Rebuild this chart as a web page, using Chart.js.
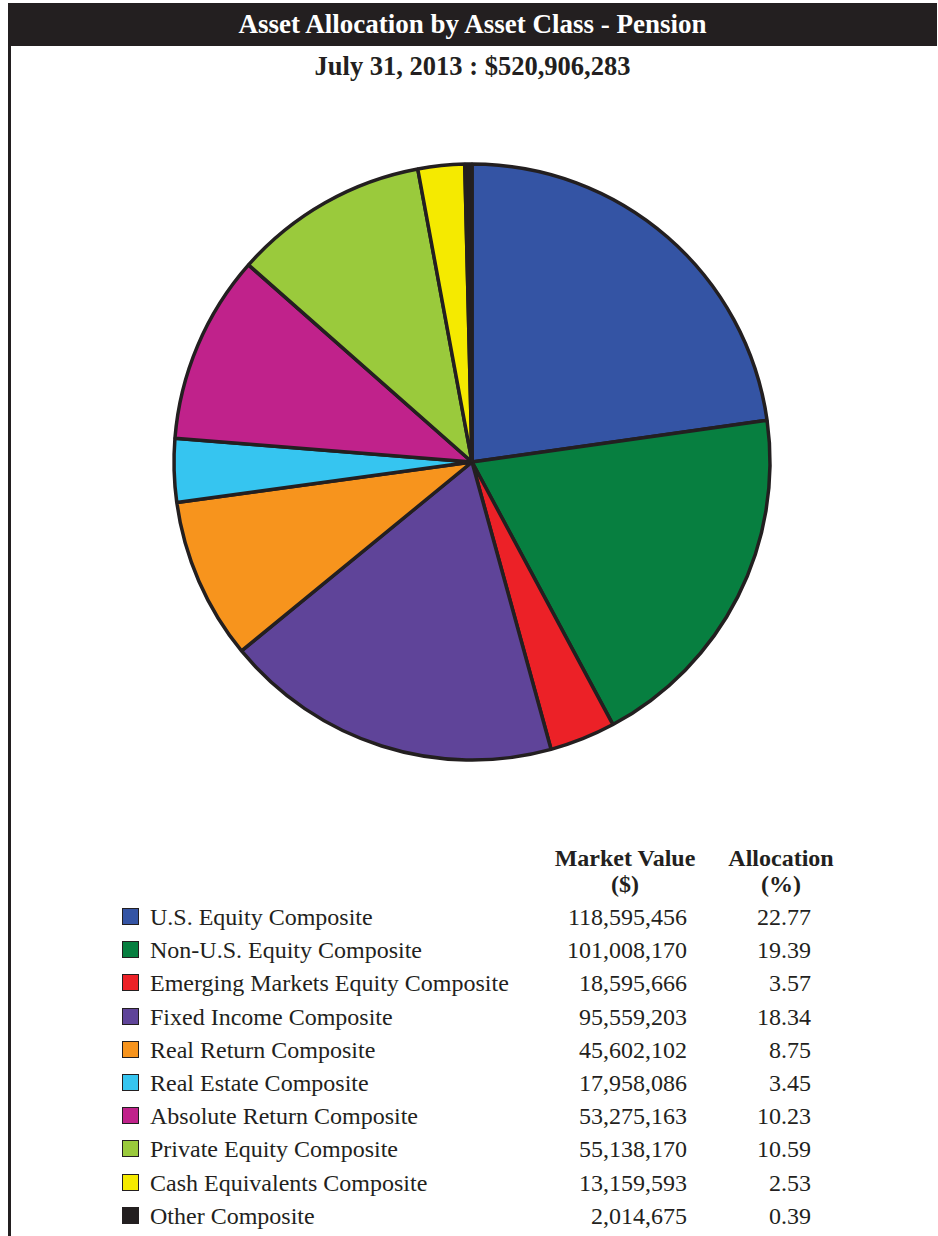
<!DOCTYPE html>
<html>
<head>
<meta charset="utf-8">
<script src="https://cdn.jsdelivr.net/npm/chart.js@4/dist/chart.umd.min.js"></script>
<style>
  html, body { margin: 0; padding: 0; background: #fff; }
  body { width: 938px; height: 1236px; position: relative; overflow: hidden;
         font-family: "Liberation Serif", "Times New Roman", serif; color: #231f20; }
  .frame-left { position: absolute; left: 8px; top: 3px; width: 3px; height: 1233px; background: #231f20; }
  .header { position: absolute; left: 8px; top: 3px; width: 929px; height: 43px; background: #231f20;
            color: #fff; font-weight: bold; font-size: 27px; line-height: 43px; text-align: center; }
  .subtitle { position: absolute; left: 8px; width: 929px; top: 50px; text-align: center;
              font-weight: bold; font-size: 26.5px; line-height: 32px; }
  #pieWrap { position: absolute; left: 152px; top: 142px; width: 640px; height: 640px; }
  .colhead { position: absolute; font-weight: bold; font-size: 24px; text-align: center; line-height: 26px; }
  .row { position: absolute; left: 0; width: 938px; height: 30px; font-size: 24px; line-height: 30px; }
  .sw { position: absolute; left: 122px; top: 6px; width: 15px; height: 15px; border: 1.5px solid #231f20; }
  .lbl { position: absolute; left: 150px; }
  .mv { position: absolute; right: 251px; }
  .pct { position: absolute; right: 127px; }
</style>
</head>
<body>
<div class="frame-left"></div>
<div class="header">Asset Allocation by Asset Class - Pension</div>
<div class="subtitle">July 31, 2013 : $520,906,283</div>
<div id="pieWrap"><canvas id="pieChart" width="640" height="640"></canvas></div>
<div class="colhead" style="left:535px; top:845px; width:180px;">Market Value<br>($)</div>
<div class="colhead" style="left:706px; top:845px; width:150px;">Allocation<br>(%)</div>
<div id="legend"></div>

<script>
/* ── Data ── */
const categories = [
  "U.S. Equity Composite",
  "Non-U.S. Equity Composite",
  "Emerging Markets Equity Composite",
  "Fixed Income Composite",
  "Real Return Composite",
  "Real Estate Composite",
  "Absolute Return Composite",
  "Private Equity Composite",
  "Cash Equivalents Composite",
  "Other Composite"
];
const marketValues = [118595456, 101008170, 18595666, 95559203, 45602102, 17958086, 53275163, 55138170, 13159593, 2014675];
const allocations = [22.77, 19.39, 3.57, 18.34, 8.75, 3.45, 10.23, 10.59, 2.53, 0.39];
const colors = ["#3454a4", "#077f40", "#ec2127", "#5f4499", "#f7941d", "#36c5f0", "#c0228b", "#9aca3c", "#f5ea00", "#231f20"];

/* ── Pie ── */
new Chart(document.getElementById("pieChart"), {
  type: "pie",
  data: {
    labels: categories,
    datasets: [{
      data: marketValues,
      backgroundColor: colors,
      borderColor: "#231f20",
      borderWidth: 3.5,
      hoverOffset: 0
    }]
  },
  options: {
    responsive: false,
    animation: false,
    radius: 298,
    layout: { padding: 0 },
    plugins: { legend: { display: false }, tooltip: { enabled: false } }
  }
});

/* ── Legend table ── */
const fmt = v => v.toLocaleString("en-US");
const legend = document.getElementById("legend");
legend.innerHTML = categories.map((c, i) => {
  const top = 902 + i * 33.2;
  return `<div class="row" style="top:${top}px">
    <div class="sw" style="background:${colors[i]}"></div>
    <div class="lbl">${c}</div>
    <div class="mv">${fmt(marketValues[i])}</div>
    <div class="pct">${allocations[i].toFixed(2)}</div>
  </div>`;
}).join("");
</script>
</body>
</html>
